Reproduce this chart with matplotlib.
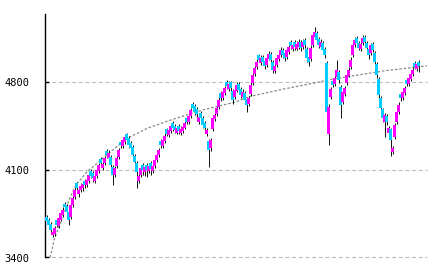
"""Candlestick chart with a dashed long-run trend curve, rendered to out.png."""

import matplotlib

matplotlib.use("Agg")
import matplotlib.pyplot as plt
import numpy as np


OPENS = [
    3720, 3700, 3665, 3580, 3590, 3700, 3650, 3700, 3740, 3830,
    3810, 3760, 3720, 3820, 3880, 3990, 3905, 3935, 3950, 4010,
    3980, 4010, 4090, 4075, 4010, 4050, 4090, 4185, 4110, 4150,
    4250, 4195, 4200, 4120, 4060, 4130, 4200, 4320, 4290, 4320,
    4380, 4350, 4310, 4280, 4210, 4150, 4010, 4060, 4140, 4080,
    4140, 4090, 4150, 4090, 4130, 4175, 4215, 4330, 4290, 4330,
    4420, 4375, 4410, 4470, 4450, 4395, 4445, 4390, 4405, 4435,
    4515, 4480, 4530, 4625, 4610, 4585, 4480, 4550, 4510, 4470,
    4380, 4330, 4270, 4420, 4500, 4540, 4600, 4710, 4670, 4710,
    4800, 4745, 4795, 4730, 4680, 4730, 4780, 4740, 4680, 4710,
    4660, 4620, 4700, 4790, 4860, 4915, 5010, 4950, 5000, 4965,
    4935, 4985, 5020, 4960, 4885, 4935, 4980, 5015, 5055, 5030,
    5000, 5040, 5115, 5060, 5115, 5065, 5080, 5115, 5075, 5130,
    5060, 5000, 4980, 5090, 5160, 5190, 5140, 5080, 5110, 5060,
    4950, 4380, 4680, 4810, 4780, 4840, 4880, 4760, 4640, 4700,
    4790, 4850, 4920, 5010, 5090, 5150, 5110, 5060, 5105, 5160,
    5110, 5060, 5030, 5100, 5030, 4940, 4820, 4670, 4580, 4480,
    4530, 4390, 4420, 4240, 4360, 4480, 4560, 4700, 4670, 4710,
    4815, 4780, 4820, 4860, 4950, 4900, 4960,
]

CLOSES = [
    3690, 3660, 3620, 3605, 3635, 3660, 3715, 3755, 3780, 3800,
    3765, 3700, 3820, 3875, 3940, 3955, 3940, 3970, 3985, 3978,
    4018, 4058, 4050, 4035, 4050, 4098, 4137, 4153, 4145, 4193,
    4217, 4233, 4137, 4058, 4114, 4193, 4257, 4297, 4337, 4361,
    4337, 4297, 4273, 4217, 4161, 4082, 4050, 4114, 4098, 4122,
    4098, 4130, 4106, 4130, 4177, 4217, 4257, 4297, 4337, 4369,
    4385, 4417, 4448, 4432, 4417, 4432, 4409, 4425, 4440, 4472,
    4480, 4528, 4576, 4592, 4560, 4544, 4520, 4512, 4456, 4432,
    4417, 4257, 4337, 4512, 4536, 4592, 4656, 4672, 4720, 4751,
    4767, 4783, 4751, 4656, 4735, 4775, 4735, 4696, 4720, 4656,
    4616, 4672, 4775, 4855, 4911, 4959, 4975, 4991, 4959, 4927,
    4991, 5022, 4975, 4895, 4927, 4991, 5014, 5054, 5014, 4991,
    5054, 5078, 5086, 5094, 5078, 5102, 5118, 5070, 5118, 5094,
    4991, 4959, 5070, 5174, 5198, 5134, 5094, 5118, 5054, 5014,
    4560, 4600, 4740, 4775, 4831, 4895, 4815, 4616, 4720, 4751,
    4855, 4895, 4975, 5094, 5134, 5110, 5070, 5102, 5150, 5118,
    5070, 5014, 5094, 5054, 4959, 4855, 4696, 4592, 4512, 4536,
    4480, 4432, 4337, 4273, 4456, 4560, 4616, 4672, 4720, 4751,
    4783, 4831, 4863, 4895, 4919, 4943, 4927,
]

HIGHS = [
    3735, 3715, 3680, 3625, 3650, 3715, 3730, 3770, 3800, 3845,
    3825, 3775, 3835, 3890, 3960, 4005, 3960, 3990, 4005, 4025,
    4035, 4075, 4105, 4090, 4070, 4115, 4155, 4200, 4165, 4210,
    4265, 4255, 4215, 4135, 4130, 4210, 4275, 4335, 4355, 4385,
    4395, 4365, 4325, 4295, 4225, 4165, 4070, 4130, 4155, 4140,
    4155, 4150, 4165, 4150, 4195, 4235, 4275, 4345, 4355, 4390,
    4435, 4435, 4470, 4485, 4465, 4450, 4460, 4445, 4460, 4490,
    4530, 4545, 4595, 4640, 4625, 4600, 4540, 4565, 4525, 4485,
    4435, 4345, 4355, 4530, 4555, 4610, 4675, 4725, 4740, 4770,
    4815, 4805, 4810, 4745, 4755, 4795, 4795, 4755, 4740, 4725,
    4675, 4690, 4795, 4875, 4930, 4980, 5025, 5010, 5015, 4980,
    5010, 5045, 5035, 4975, 4945, 5010, 5035, 5075, 5070, 5045,
    5075, 5095, 5130, 5115, 5130, 5125, 5140, 5130, 5140, 5145,
    5075, 5015, 5090, 5195, 5235, 5205, 5155, 5140, 5125, 5075,
    4965, 4620, 4760, 4825, 4850, 4975, 4895, 4775, 4740, 4770,
    4875, 4915, 4995, 5110, 5155, 5165, 5125, 5120, 5170, 5175,
    5125, 5075, 5110, 5115, 5045, 4955, 4835, 4685, 4595, 4555,
    4545, 4450, 4435, 4290, 4475, 4580, 4635, 4715, 4740, 4770,
    4830, 4850, 4885, 4915, 4965, 4960, 4975,
]

LOWS = [
    3670, 3640, 3595, 3565, 3575, 3640, 3635, 3690, 3725, 3780,
    3745, 3660, 3705, 3800, 3865, 3935, 3885, 3920, 3930, 3955,
    3960, 3995, 4030, 4000, 3995, 4035, 4075, 4135, 4095, 4135,
    4195, 4180, 4115, 3980, 4040, 4115, 4185, 4275, 4275, 4305,
    4315, 4275, 4250, 4195, 4135, 3950, 3990, 4040, 4060, 4050,
    4040, 4070, 4060, 4075, 4115, 4160, 4200, 4275, 4275, 4315,
    4365, 4360, 4395, 4410, 4390, 4380, 4385, 4375, 4390, 4420,
    4460, 4465, 4515, 4570, 4535, 4520, 4465, 4490, 4430, 4405,
    4365, 4120, 4250, 4405, 4485, 4525, 4585, 4650, 4655, 4695,
    4745, 4730, 4730, 4625, 4665, 4715, 4710, 4670, 4665, 4630,
    4560, 4605, 4685, 4775, 4845, 4900, 4955, 4935, 4935, 4900,
    4920, 4970, 4950, 4870, 4870, 4920, 4965, 5000, 4990, 4965,
    4985, 5025, 5065, 5045, 5055, 5050, 5065, 5045, 5060, 5070,
    4960, 4925, 4965, 5075, 5145, 5110, 5070, 5065, 5030, 4990,
    4540, 4300, 4665, 4755, 4765, 4825, 4790, 4515, 4625, 4685,
    4775, 4835, 4905, 4995, 5075, 5090, 5050, 5045, 5090, 5095,
    5045, 4985, 5015, 5035, 4935, 4830, 4670, 4565, 4480, 4360,
    4455, 4370, 4210, 4225, 4345, 4465, 4545, 4650, 4655, 4695,
    4765, 4765, 4805, 4845, 4900, 4885, 4880,
]

# Trend curve: (candle position, level).
TREND_POS = [1.75, 2.75, 3.75, 8.75, 11.25, 14.75, 20.25, 27.25, 31.25,
             40.75, 50.75, 62.25, 78.25, 94.75, 100.75, 118.75, 129.25,
             143.75, 168.75, 190.25]
TREND_LEVEL = [3400, 3460, 3540, 3755, 3858, 3978, 4082, 4177, 4233,
               4353, 4432, 4496, 4576, 4640, 4680, 4743, 4775,
               4823, 4887, 4927]

Y_TICKS = [3400, 4100, 4800]

UP_COLOR = "#ff00ff"
DOWN_COLOR = "#00ccff"


def render(output_path="out.png"):
    opens = np.array(OPENS, dtype=float)
    closes = np.array(CLOSES, dtype=float)
    highs = np.array(HIGHS, dtype=float)
    lows = np.array(LOWS, dtype=float)
    pos = np.arange(len(closes))

    fig = plt.figure(figsize=(4.34, 2.71), dpi=100)
    ax = fig.add_axes((45 / 434, 1 - 257.5 / 271, 382 / 434, 243.5 / 271))

    for level in Y_TICKS:
        ax.axhline(level, color="#bbbbbb", linewidth=0.8,
                   dashes=(3.5, 2.5), clip_on=False, zorder=1)

    ax.plot(TREND_POS, TREND_LEVEL, color="#888888", linewidth=0.9,
            dashes=(2, 1.5), zorder=2)

    up = closes >= opens
    colors = np.where(up, UP_COLOR, DOWN_COLOR)
    bottoms = np.minimum(opens, closes)
    heights = np.abs(closes - opens)

    ax.vlines(pos + 0.45, lows, highs, color="black", linewidth=0.65,
              zorder=3)
    # Aliased bodies keep the crisp, pixel-stepped look of the original.
    ax.bar(pos, heights, bottom=bottoms, width=1.1, color=colors,
           linewidth=0, antialiased=False, zorder=4)

    ax.set_xlim(-0.75, 190.25)
    ax.set_ylim(3400, 5340)
    ax.set_xticks([])
    ax.set_yticks(Y_TICKS)
    ax.set_yticklabels([str(t) for t in Y_TICKS], family="DejaVu Sans Mono",
                       fontsize=7.5)
    ax.tick_params(axis="y", direction="in", length=3, width=1, pad=11)

    for side in ("top", "right", "bottom"):
        ax.spines[side].set_visible(False)
    ax.spines["left"].set_linewidth(1)

    fig.savefig(output_path, dpi=100)
    plt.close(fig)


if __name__ == "__main__":
    render()
